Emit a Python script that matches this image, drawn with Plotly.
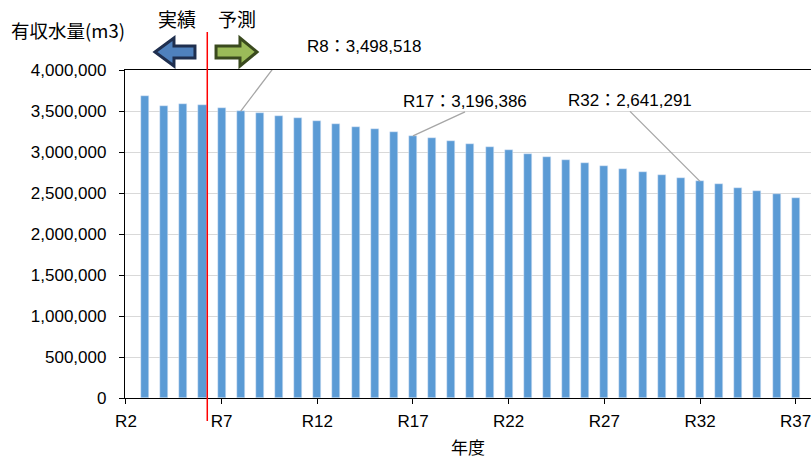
import plotly.graph_objects as go

# data
years = list(range(3, 38))  # R3 .. R37
volumes = [
    3686000, 3557000, 3585000, 3573000, 3537000, 3498518, 3472000, 3443000,
    3411000, 3378000, 3345000, 3309000, 3277000, 3240000, 3196386, 3167000,
    3130000, 3098000, 3057000, 3020000, 2981000, 2945000, 2902000, 2866000,
    2829000, 2791000, 2756000, 2719000, 2683000, 2641291, 2606000, 2565000,
    2524000, 2484000, 2439000,
]
tick_vals = [2, 7, 12, 17, 22, 27, 32, 37]
tick_text = ['R2', 'R7', 'R12', 'R17', 'R22', 'R27', 'R32', 'R37']
callout_years = [8, 17, 32]

FONT = 'Liberation Sans, Arial, Noto Sans CJK JP, sans-serif'
JP_FONT = 'Noto Sans CJK JP, sans-serif'

FIG_W, FIG_H = 811, 460

# plot area in pixels
L, R, T, B = 125, 811, 70, 398
PW, PH = R - L, B - T


def paper(x, y):
    return (x - L) / PW, (B - y) / PH


def poly_path(points):
    pts = [paper(x, y) for x, y in points]
    return 'M' + ' L'.join(f'{x:.4f},{y:.4f}' for x, y in pts) + ' Z'


fig = go.Figure(
    go.Bar(
        x=years,
        y=volumes,
        width=0.42,
        marker_color='#5B9BD5',
        hoverinfo='x+y',
        showlegend=False
    )
)

fig.update_layout(
    width=FIG_W,
    height=FIG_H,
    margin=dict(l=L, r=FIG_W - R, t=T, b=FIG_H - B),
    plot_bgcolor='white',
    paper_bgcolor='white',
    font=dict(family=FONT, size=17, color='#000000'),
    bargap=0,
)

fig.update_xaxes(
    range=[1.95, 37.8],
    tickvals=tick_vals,
    ticktext=tick_text,
    ticks='outside',
    ticklen=5,
    tickcolor='black',
    showline=True,
    linecolor='black',
    linewidth=1.3,
    mirror=True,
    showgrid=False,
    zeroline=False,
    ticklabelstandoff=2,
    ticklabeloverflow='allow',
    title=dict(text='年度', font=dict(family=JP_FONT, size=17), standoff=12),
)

fig.update_yaxes(
    range=[0, 4000000],
    dtick=500000,
    tickformat=',',
    ticks='outside',
    ticklen=5,
    tickcolor='black',
    showline=True,
    linecolor='black',
    linewidth=1.3,
    gridcolor='#D9D9D9',
    gridwidth=1,
    zeroline=False,
    ticklabelstandoff=9,
)

# 実績 / 予測 boundary
fig.add_shape(type='line', xref='x', yref='paper', x0=6.25, x1=6.25,
              y0=paper(0, 421)[1], y1=paper(0, 32)[1],
              line=dict(color='#FF0000', width=1.5))

# block arrows
fig.add_shape(type='path', xref='paper', yref='paper',
              path=poly_path([(155, 52), (174, 38), (174, 46), (195, 46),
                              (195, 58), (174, 58), (174, 66)]),
              fillcolor='#4F81BD', line=dict(color='#1F2F4F', width=3))
fig.add_shape(type='path', xref='paper', yref='paper',
              path=poly_path([(216, 46), (240, 46), (240, 38), (257, 52),
                              (240, 66), (240, 58), (216, 58)]),
              fillcolor='#9BBB59', line=dict(color='#3A4A1E', width=3))

for label, cx in [('実績', 177), ('予測', 237)]:
    px_, py_ = paper(cx, 19)
    fig.add_annotation(text=label, xref='paper', yref='paper', x=px_, y=py_,
                       showarrow=False, xanchor='center', yanchor='middle',
                       font=dict(family=JP_FONT, size=19, color='black'))

tx, ty = paper(9, 30)
fig.add_annotation(text='有収水量(m3)', xref='paper', yref='paper', x=tx, y=ty,
                   showarrow=False, xanchor='left', yanchor='middle',
                   font=dict(family=JP_FONT, size=18.5, color='black'))

# callouts
vals = dict(zip(years, volumes))
LEADER = '#A6A6A6'

# R8: bent leader line
y8 = callout_years[0]
fig.add_shape(type='path', xref='x', yref='y', xsizemode='pixel', ysizemode='pixel',
              xanchor=y8, yanchor=vals[y8], path='M0,0 L50,66 L60,66',
              line=dict(color=LEADER, width=1.3))
fig.add_annotation(text=f'R{y8}：{vals[y8]:,}', x=y8, y=vals[y8], xref='x', yref='y',
                   showarrow=False, xanchor='left', yanchor='middle',
                   xshift=64, yshift=65, font=dict(size=17))

for yr, ax, ay in [(callout_years[1], 52, -24), (callout_years[2], -70, -70)]:
    fig.add_annotation(text=f'R{yr}：{vals[yr]:,}', x=yr, y=vals[yr], xref='x', yref='y',
                       showarrow=True, arrowhead=0, arrowwidth=1.3, arrowcolor=LEADER,
                       ax=ax, ay=ay, axref='pixel', ayref='pixel',
                       xanchor='center', yanchor='bottom', borderpad=0,
                       font=dict(size=17))

# the page body's default 8px margin would push the figure off the window
fig.write_html("out.html", config={'displayModeBar': False},
               post_script="document.body.style.margin = '0';")
